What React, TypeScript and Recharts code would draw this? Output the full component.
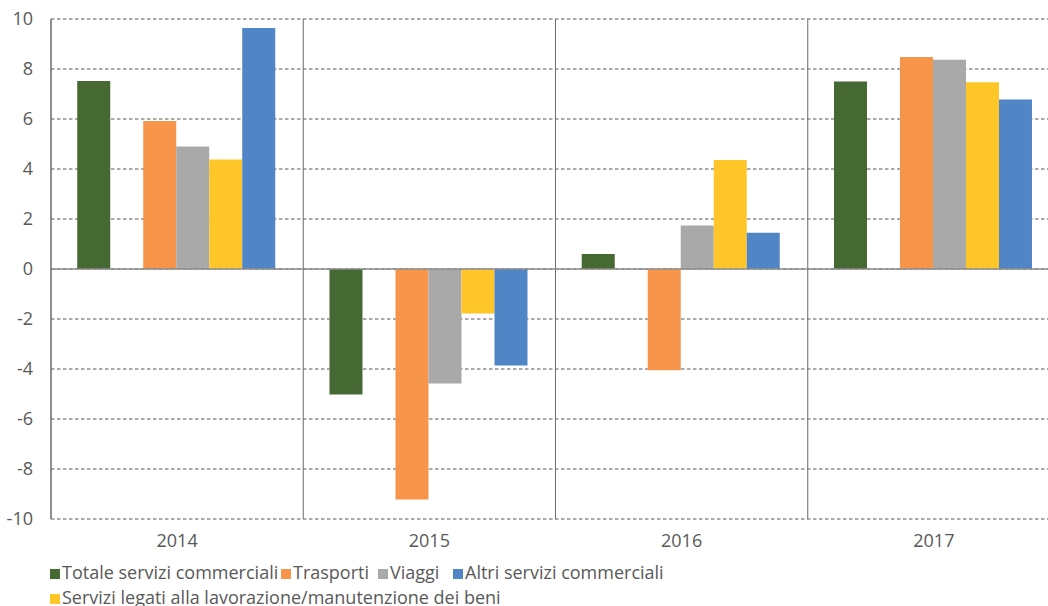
import { BarChart, Bar, XAxis, YAxis, CartesianGrid, ReferenceLine, Legend } from 'recharts';

const anni = ['2014', '2015', '2016', '2017'];
const totale = [7.52, -5.02, 0.6, 7.5];
const trasporti = [5.92, -9.22, -4.05, 8.48];
const viaggi = [4.9, -4.58, 1.74, 8.37];
const lavorazione = [4.38, -1.78, 4.36, 7.47];
const altri = [9.64, -3.86, 1.45, 6.78];
const yTicks = [-10, -8, -6, -4, -2, 0, 2, 4, 6, 8, 10];

const data = anni.map((anno, i) => ({
  anno,
  totale: totale[i],
  trasporti: trasporti[i],
  viaggi: viaggi[i],
  lavorazione: lavorazione[i],
  altri: altri[i],
}));

const serie = [
  { key: 'totale', name: 'Totale servizi commerciali', color: '#466833' },
  { key: 'trasporti', name: 'Trasporti', color: '#F7954A' },
  { key: 'viaggi', name: 'Viaggi', color: '#A9A9A9' },
  { key: 'lavorazione', name: 'Servizi legati alla lavorazione/manutenzione dei beni', color: '#FFC62A' },
  { key: 'altri', name: 'Altri servizi commerciali', color: '#5085C6' },
];

// legend order as in the original; Excel lays the first row out in fixed slots
const legendOrder = ['totale', 'trasporti', 'viaggi', 'altri', 'lavorazione'];
const legendSlots = [231, 97, 75, 0, 0];

const font = '"Open Sans", sans-serif';
const textColor = '#595959';

const LegendContent = () => {
  const items = legendOrder.map((k) => serie.find((s) => s.key === k)!);
  return (
    <div style={{ width: 640, fontFamily: font, fontSize: 18, color: textColor, lineHeight: '25px' }}>
      {items.map((s, i) => (
        <span
          key={s.key}
          style={{ minWidth: legendSlots[i] || undefined, whiteSpace: 'nowrap', display: 'inline-block' }}
        >
          <span style={{ display: 'inline-block', width: 10, height: 10, background: s.color, marginRight: 2 }} />
          {s.name}
        </span>
      ))}
    </div>
  );
};

// vertical lines on the borders between the year groups
const boundaries = (props: any) => {
  const { offset } = props;
  const step = offset.width / anni.length;
  return anni.map((_, i) => offset.left + i * step);
};

export default function App() {
  return (
    <div style={{ position: 'absolute', left: 0, top: 0, width: 1048, height: 606, overflow: 'hidden', background: '#fff' }}>
      <BarChart
        width={1060}
        height={606}
        data={data}
        margin={{ top: 19, right: 0, left: 0, bottom: 47 }}
        barCategoryGap="10.4%"
        barGap={0}
        style={{ fontFamily: font }}
      >
        <CartesianGrid vertical={false} stroke="#595959" strokeDasharray="3.5 2.5" />
        <CartesianGrid horizontal={false} stroke="#6b6b6b" verticalCoordinatesGenerator={boundaries} />
        <XAxis
          dataKey="anno"
          axisLine={false}
          tickLine={false}
          height={40}
          tickMargin={9}
          tick={{ fill: textColor, fontSize: 18 }}
        />
        <YAxis
          domain={[-10, 10]}
          ticks={yTicks}
          width={51}
          axisLine={{ stroke: '#6b6b6b' }}
          tickLine={false}
          tickMargin={12}
          interval={0}
          tick={{ fill: textColor, fontSize: 18 }}
        />
        <ReferenceLine y={0} stroke="#8c8c8c" strokeWidth={1.5} />
        <Bar dataKey="totale" name={serie[0].name} fill={serie[0].color} isAnimationActive={false} />
        <Bar dataKey="vuoto" legendType="none" fill="none" isAnimationActive={false} />
        <Bar dataKey="trasporti" name={serie[1].name} fill={serie[1].color} isAnimationActive={false} />
        <Bar dataKey="viaggi" name={serie[2].name} fill={serie[2].color} isAnimationActive={false} />
        <Bar dataKey="lavorazione" name={serie[3].name} fill={serie[3].color} isAnimationActive={false} />
        <Bar dataKey="altri" name={serie[4].name} fill={serie[4].color} isAnimationActive={false} />
        <Legend
          layout="horizontal"
          verticalAlign="middle"
          align="center"
          content={<LegendContent />}
          wrapperStyle={{ position: 'absolute', top: 560, left: 50, width: 640 }}
        />
      </BarChart>
    </div>
  );
}
